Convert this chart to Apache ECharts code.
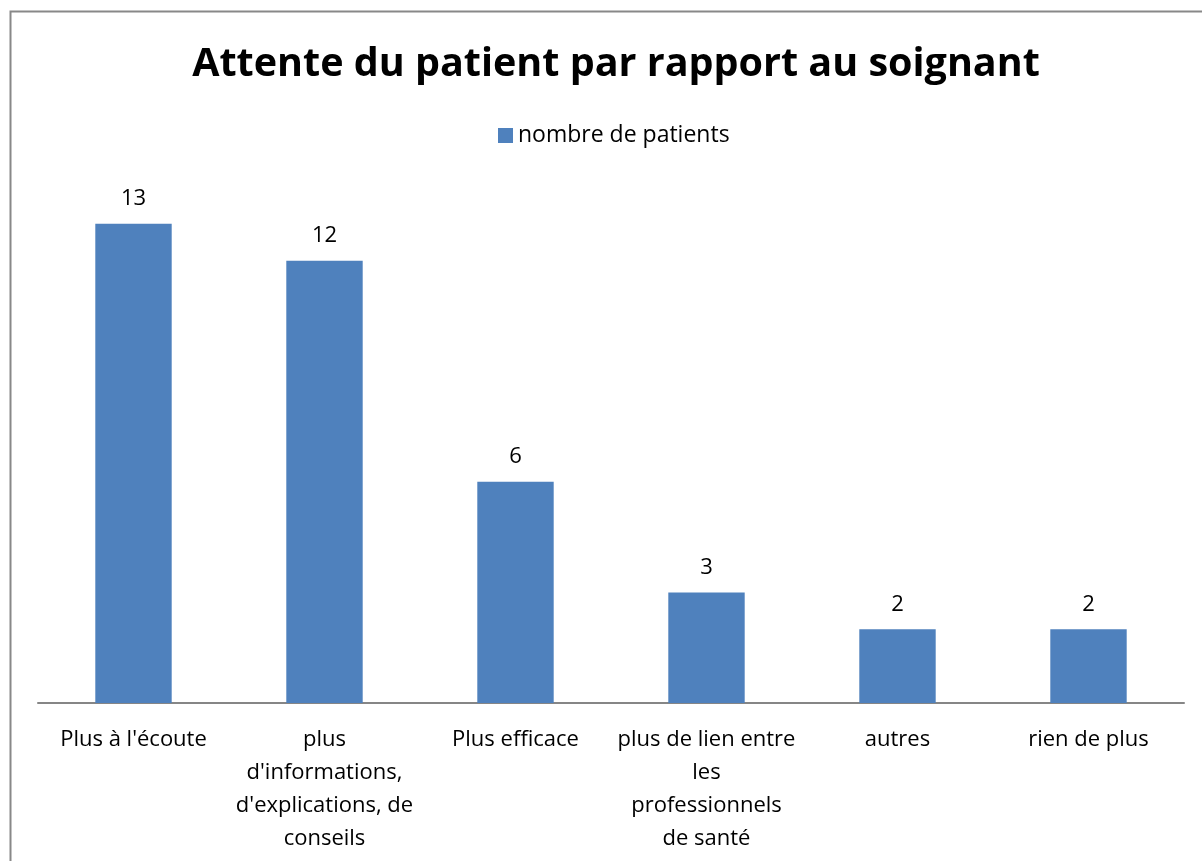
<!DOCTYPE html>
<html>
<head>
<meta charset="utf-8">
<script src="https://cdn.jsdelivr.net/npm/echarts@6/dist/echarts.min.js"></script>
<style>
html, body { margin: 0; padding: 0; background: #fff; }
#chart { width: 1202px; height: 861px; }
</style>
</head>
<body>
<div id="chart"></div>
<script>
const categories = [
    "Plus à l'écoute",
    "plus\nd'informations,\nd'explications, de\nconseils",
    "Plus efficace",
    "plus de lien entre\nles\nprofessionnels\nde santé",
    "autres",
    "rien de plus"
];
const seriesName = 'nombre de patients';
const values = [13, 12, 6, 3, 2, 2];

const font = '"Open Sans", "Noto Sans", sans-serif';
const chart = echarts.init(document.getElementById('chart'));
const option = {
    backgroundColor: '#fff',
    animation: false,
    title: {
        text: 'Attente du patient par rapport au soignant',
        left: 611,
        textAlign: 'center',
        top: 40,
        textStyle: { fontFamily: font, fontSize: 39.5, fontWeight: 'bold', color: '#000' }
    },
    legend: {
        data: [seriesName],
        top: 119,
        left: 493,
        icon: 'rect',
        itemWidth: 15,
        itemHeight: 15,
        itemGap: 6,
        textStyle: { fontFamily: font, fontSize: 23, color: '#000' }
    },
    grid: {
        left: 38,
        right: 18,
        top: 187,
        bottom: 158
    },
    xAxis: {
        type: 'category',
        data: categories,
        axisLine: { lineStyle: { color: '#868686', width: 2 } },
        axisTick: { show: false },
        axisLabel: {
            interval: 0,
            margin: 20,
            fontFamily: font,
            fontSize: 22,
            lineHeight: 33,
            color: '#000'
        }
    },
    yAxis: {
        type: 'value',
        min: 0,
        max: 14,
        show: false
    },
    series: [{
        name: seriesName,
        type: 'bar',
        data: values,
        barWidth: '40%',
        itemStyle: { color: '#4F81BD' },
        label: {
            show: true,
            position: 'top',
            distance: 14,
            fontFamily: font,
            fontSize: 22,
            color: '#000'
        }
    }],
    graphic: [{
        type: 'rect',
        shape: { x: 10.5, y: 11.5, width: 1200, height: 860 },
        style: { fill: 'none', stroke: '#888', lineWidth: 2 },
        silent: true
    }]
};
chart.setOption(option);
window.addEventListener('resize', function () { chart.resize(); });
</script>
</body>
</html>
